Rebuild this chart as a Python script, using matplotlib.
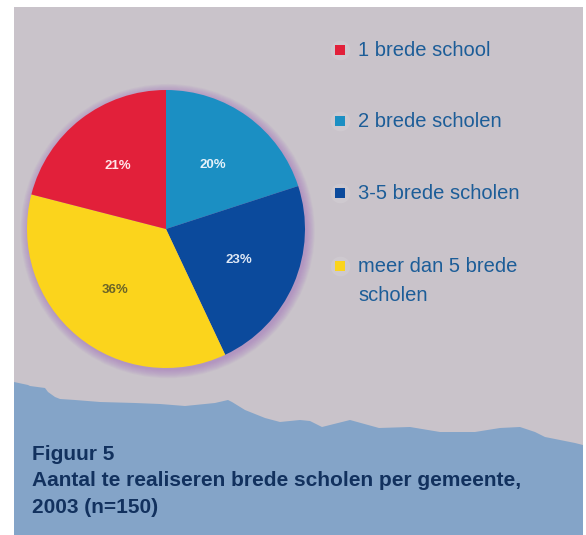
import matplotlib
matplotlib.use("Agg")
import matplotlib.pyplot as plt
from matplotlib.patches import Rectangle, Polygon, Circle

# data
categories = ["1 brede school", "2 brede scholen", "3-5 brede scholen", "meer dan 5 brede\nscholen"]
shares = [21, 20, 23, 36]
colors = ["#e2203a", "#1b8fc3", "#0b4a9c", "#fbd41c"]
label_colors = ["#ffe6ea", "#e6f2fa", "#dfe8f5", "#6b6428"]
pie_order = [1, 2, 3, 0]   # clockwise from 12 o'clock

caption = ["Figuur 5",
           "Aantal te realiseren brede scholen per gemeente,",
           "2003 (n=150)"]

# jagged top edge of the blue band (pixels)
edge_x = [14, 28, 30, 45, 48, 55, 60, 75, 100, 135, 160, 185, 215, 228, 232, 245,
          255, 265, 280, 300, 310, 322, 350, 379, 410, 440, 475, 500, 520, 535, 545,
          560, 575, 583]
edge_y = [382, 385, 386, 388, 392, 397, 399, 400, 402, 403, 404, 406, 403, 400, 402, 410,
          414, 418, 422, 420, 421, 427, 420, 428, 427, 432, 432, 428, 427, 432, 437,
          440, 443, 445]

W, H = 586, 535
fig = plt.figure(figsize=(W / 100, H / 100), dpi=100, facecolor="white")

bg = fig.add_axes([0, 0, 1, 1])
bg.set_xlim(0, W)
bg.set_ylim(H, 0)
bg.axis("off")
bg.add_patch(Rectangle((14, 7), 569, H - 7, color="#c9c3ca", lw=0))
band = list(zip(edge_x, edge_y)) + [(583, H), (14, H)]
bg.add_patch(Polygon(band, closed=True, color="#84a4c8", lw=0))

# caption
for i, line in enumerate(caption):
    bg.text(32, 460 + i * 26.5, line, fontsize=15, fontweight="bold", color="#12315e",
            family=["Liberation Sans", "DejaVu Sans"], va="baseline")

# legend
leg_y = [56, 127, 199, 272]
for name, c, y in zip(categories, colors, leg_y):
    bg.scatter([340], [y - 6], s=200, marker="o", color="white", alpha=0.1, lw=0)
    bg.scatter([340], [y - 6], s=60, marker="s", color=c, lw=0)
    for j, part in enumerate(name.split("\n")):
        bg.text(358, y + j * 29, part, fontsize=14.5, color="#1c5d98",
                family=["Liberation Sans", "DejaVu Sans"], va="baseline")

# pie
cx, cy, r = 166, 229, 139
lim = 1.35
side = 2 * lim * r
pax = fig.add_axes([(cx - side / 2) / W, (H - cy - side / 2) / H, side / W, side / H])
pax.set_xlim(-lim, lim)
pax.set_ylim(-lim, lim)
pax.axis("off")

# soft purple halo round the pie
for k in range(10):
    pax.add_patch(Circle((0.012, -0.015), 1.0 + 0.0065 * k, color="#a472bf", alpha=0.07, lw=0))

vals = [shares[i] for i in pie_order]
cols = [colors[i] for i in pie_order]
wedges, texts, autotexts = pax.pie(vals, colors=cols, startangle=90, counterclock=False,
                                   autopct=lambda p: f"{p:.0f}%", pctdistance=0.57,
                                   wedgeprops=dict(linewidth=0))
for t, i in zip(autotexts, pie_order):
    t.set_color(label_colors[i])
    t.set_fontsize(9.5)
    t.set_fontweight("bold")
    t.set_family(["Liberation Sans Narrow", "Liberation Sans"])
pax.set_xlim(-lim, lim)
pax.set_ylim(-lim, lim)
pax.set_aspect("equal")

fig.savefig("out.png", dpi=100, facecolor="white")
